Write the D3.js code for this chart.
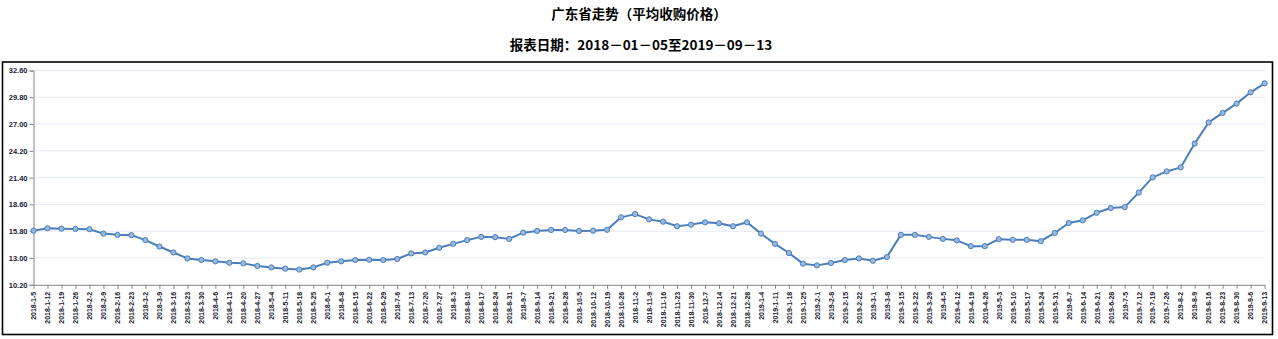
<!DOCTYPE html>
<html><head><meta charset="utf-8">
<script src="https://cdn.jsdelivr.net/npm/d3@7"></script>
<style>
html,body{margin:0;padding:0;background:#fff;}
svg{display:block;}
</style></head>
<body>
<script>
const title = "广东省走势（平均收购价格）";
const subtitle = "报表日期：2018－01－05至2019－09－13";
const dates = [
"2018-1-5","2018-1-12","2018-1-19","2018-1-26","2018-2-2","2018-2-9","2018-2-16","2018-2-23","2018-3-2","2018-3-9",
"2018-3-16","2018-3-23","2018-3-30","2018-4-6","2018-4-13","2018-4-20","2018-4-27","2018-5-4","2018-5-11","2018-5-18",
"2018-5-25","2018-6-1","2018-6-8","2018-6-15","2018-6-22","2018-6-29","2018-7-6","2018-7-13","2018-7-20","2018-7-27",
"2018-8-3","2018-8-10","2018-8-17","2018-8-24","2018-8-31","2018-9-7","2018-9-14","2018-9-21","2018-9-28","2018-10-5",
"2018-10-12","2018-10-19","2018-10-26","2018-11-2","2018-11-9","2018-11-16","2018-11-23","2018-11-30","2018-12-7","2018-12-14",
"2018-12-21","2018-12-28","2019-1-4","2019-1-11","2019-1-18","2019-1-25","2019-2-1","2019-2-8","2019-2-15","2019-2-22",
"2019-3-1","2019-3-8","2019-3-15","2019-3-22","2019-3-29","2019-4-5","2019-4-12","2019-4-19","2019-4-26","2019-5-3",
"2019-5-10","2019-5-17","2019-5-24","2019-5-31","2019-6-7","2019-6-14","2019-6-21","2019-6-28","2019-7-5","2019-7-12",
"2019-7-19","2019-7-26","2019-8-2","2019-8-9","2019-8-16","2019-8-23","2019-8-30","2019-9-6","2019-9-13"];
const prices = [
15.86,16.11,16.07,16.04,16.01,15.55,15.42,15.39,14.87,14.20,
13.58,12.96,12.79,12.65,12.51,12.44,12.17,12.02,11.89,11.79,
12.02,12.51,12.65,12.79,12.82,12.79,12.90,13.48,13.58,14.07,
14.48,14.87,15.21,15.18,15.00,15.65,15.83,15.93,15.93,15.83,
15.86,15.95,17.25,17.59,17.04,16.80,16.32,16.49,16.73,16.63,
16.32,16.73,15.55,14.48,13.52,12.41,12.23,12.48,12.79,12.96,
12.72,13.10,15.42,15.42,15.21,15.00,14.85,14.24,14.24,14.97,
14.90,14.90,14.76,15.62,16.66,16.94,17.73,18.22,18.32,19.84,
21.43,22.05,22.47,24.96,27.17,28.17,29.14,30.32,31.26];
const yTicks = [10.2,13.0,15.8,18.6,21.4,24.2,27.0,29.8,32.6];

const W = 1278, H = 339;
const svg = d3.select("body").append("svg").attr("width", W).attr("height", H);

// titles
svg.append("text").attr("x", 639).attr("y", 18.5).attr("text-anchor","middle")
  .attr("font-family","'Noto Sans CJK SC', sans-serif").attr("font-weight","bold")
  .attr("font-size", 13.5).attr("fill","#000").text(title);
svg.append("text").attr("x", 641).attr("y", 50).attr("text-anchor","middle")
  .attr("font-family","'Noto Sans CJK SC', sans-serif").attr("font-weight","bold")
  .attr("font-size", 13.5).attr("fill","#000").text(subtitle);

// frame
svg.append("rect").attr("x", 2.5).attr("y", 62).attr("width", 1270).attr("height", 272.5)
  .attr("fill","none").attr("stroke","#000").attr("stroke-width", 1.6);

const x = d3.scalePoint().domain(dates).range([33.5, 1264.6]);
const y = d3.scaleLinear().domain([10.2, 32.6]).range([284.8, 70.5]);

// grid
svg.append("g").selectAll("line").data(yTicks.slice(1)).join("line")
  .attr("x1", 33.5).attr("x2", 1265).attr("y1", d => y(d)).attr("y2", d => y(d))
  .attr("stroke","#e4eaf4").attr("stroke-width",1);

// y axis
const yAxis = svg.append("g").attr("transform","translate(33.5,0)")
  .call(d3.axisLeft(y).tickValues(yTicks).tickFormat(d3.format(".2f")).tickSize(4).tickPadding(2));
yAxis.select(".domain").attr("stroke","#868686");
yAxis.selectAll(".tick line").attr("stroke","#868686");
yAxis.selectAll("text").attr("font-family","'Liberation Sans', Arial, sans-serif")
  .attr("font-size", 7.5).attr("font-weight","bold").attr("fill","#1a1a3a");

// x axis
const xAxis = svg.append("g").attr("transform","translate(0,284.8)")
  .call(d3.axisBottom(x).tickSize(4).tickSizeOuter(0));
xAxis.select(".domain").attr("stroke","#868686");
xAxis.selectAll(".tick line").attr("stroke","#868686");
xAxis.selectAll("text")
  .attr("font-family","'Liberation Sans', Arial, sans-serif").attr("font-size", 7)
  .attr("font-weight","bold").attr("fill","#1a1a2a")
  .attr("text-anchor","end").attr("dy","0.33em")
  .attr("transform","translate(0,1) rotate(-90)")
  .attr("x", -6).attr("y", 0);

// line
const line = d3.line().x((d,i) => x(dates[i])).y(d => y(d));
svg.append("path").datum(prices).attr("d", line).attr("fill","none")
  .attr("stroke","#4a7ebb").attr("stroke-width", 2).attr("stroke-linejoin","round");
svg.append("g").selectAll("circle").data(prices).join("circle")
  .attr("cx", (d,i) => x(dates[i])).attr("cy", d => y(d)).attr("r", 2.6)
  .attr("fill","#9bb8df").attr("stroke","#4a7ebb").attr("stroke-width", 1);
</script>
</body></html>
